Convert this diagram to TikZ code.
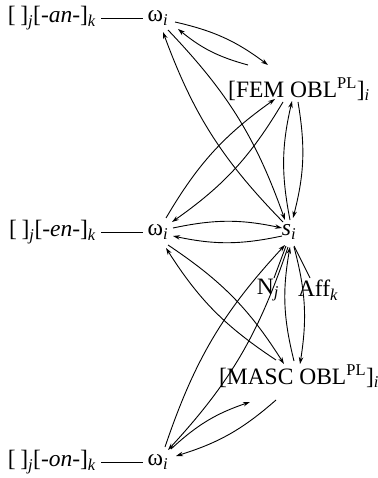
\documentclass[tikz,border=0pt]{standalone}
\usepackage{fontspec}
\setmainfont{Liberation Serif}
\usetikzlibrary{arrows.meta}
\newcommand{\sbi}[1]{\textsubscript{\itshape #1}}
\newcommand{\spi}[1]{\textsuperscript{#1}}
\begin{document}
\begin{tikzpicture}[x=1pt,y=-1pt,
  lab/.style={inner sep=0pt, font=\fontsize{23.5}{28}\selectfont},
  arr/.style={-{Stealth[length=7pt,width=4.5pt]}, line width=0.9pt, bend left=12},
  ln/.style={line width=0.9pt}]
\useasboundingbox (0,0) rectangle (377,478);
% nodes
\node[lab] (w1) at (158,18) {ω\sbi{i}};
\node[lab] (w2) at (158,232) {ω\sbi{i}};
\node[lab] (w3) at (158,462) {ω\sbi{i}};
\node[lab, anchor=east] (l1) at (96,18) {[\hspace{0.2em}]\sbi{j}[\textit{-an-}]\sbi{k}};
\node[lab, anchor=east] (l2) at (96,232) {[\hspace{0.2em}]\sbi{j}[\textit{-en-}]\sbi{k}};
\node[lab, anchor=east] (l3) at (96,462) {[\hspace{0.2em}]\sbi{j}[\textit{-on-}]\sbi{k}};
\node[lab] (fem) at (299,89) {[FEM OBL\spi{PL}]\sbi{i}};
\node[lab] (s) at (289,232) {\textit{s}\sbi{i}};
\node[lab] (masc) at (299,376) {[MASC OBL\spi{PL}]\sbi{i}};
\node[lab] (N) at (268,290) {N\sbi{j}};
\node[lab] (A) at (318,290) {Aff\sbi{k}};
% plain lines
\draw[ln] (l1.east) ++(5,0) -- ([xshift=-5pt]w1.west);
\draw[ln] (l2.east) ++(5,0) -- ([xshift=-5pt]w2.west);
\draw[ln] (l3.east) ++(5,0) -- ([xshift=-5pt]w3.west);
\draw[ln] ([shift={(-3,14)}]s.center) -- ([shift={(6,-12)}]N.center);
\draw[ln] ([shift={(5,14)}]s.center) -- ([shift={(-8,-12)}]A.center);
% arrows
\draw[arr] ([shift={(17,4)}]w1.center) to ([shift={(-31,-24)}]fem.center);
\draw[arr] ([shift={(-51,-24)}]fem.center) to ([shift={(20,11)}]w1.center);
\draw[arr] ([shift={(-6,-10)}]s.center) to ([shift={(5,14)}]w1.center);
\draw[arr] ([shift={(10,12)}]w1.center) to ([shift={(-4,-12)}]s.center);
\draw[arr] ([shift={(-1,13)}]fem.center) to ([shift={(4,-14)}]s.center);
\draw[arr] ([shift={(1,-12)}]s.center) to ([shift={(-7,12)}]fem.center);
\draw[arr] ([shift={(-16,13)}]fem.center) to ([shift={(14,-10)}]w2.center);
\draw[arr] ([shift={(8,-14)}]w2.center) to ([shift={(-24,10)}]fem.center);
\draw[arr] ([shift={(15,-4)}]w2.center) to ([shift={(-7,-4)}]s.center);
\draw[arr] ([shift={(-7,4)}]s.center) to ([shift={(15,4)}]w2.center);
\draw[arr] ([shift={(10,13)}]w2.center) to ([shift={(-15,-12)}]masc.center);
\draw[arr] ([shift={(-23,-16)}]masc.center) to ([shift={(8,16)}]w2.center);
\draw[arr] ([shift={(7,-15)}]w3.center) to ([shift={(-4,13)}]s.center);
\draw[arr] ([shift={(-1,15)}]s.center) to ([shift={(10,-12)}]w3.center);
\draw[arr] ([shift={(-5,-15)}]masc.center) to ([shift={(1,15)}]s.center);
\draw[arr] ([shift={(5,15)}]s.center) to ([shift={(1,-12)}]masc.center);
\draw[arr] ([shift={(13,-13)}]w3.center) to ([shift={(-49,26)}]masc.center);
\draw[arr] ([shift={(-23,24)}]masc.center) to ([shift={(18,-6)}]w3.center);
\end{tikzpicture}
\end{document}
